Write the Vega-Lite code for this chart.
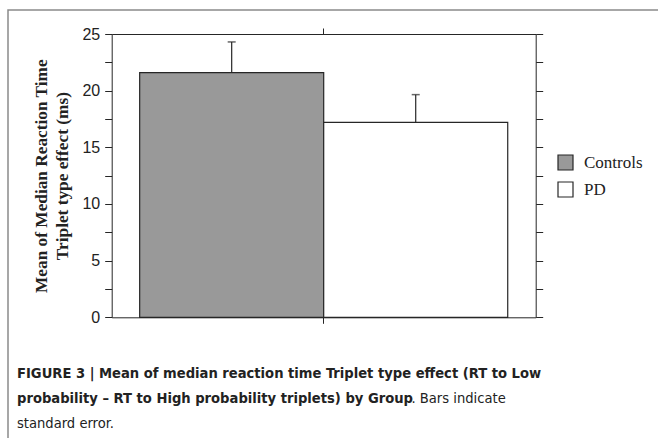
{
  "$schema": "https://vega.github.io/schema/vega-lite/v6.json",
  "autosize": "none",
  "padding": {"left": 8, "top": 10, "right": 0, "bottom": 0},
  "width": 660,
  "height": 440,
  "background": "white",
  "config": {"view": {"stroke": "#8a8a8a", "strokeWidth": 1.5}, "axis": {"grid": false}},
  "title": {
    "text": ["FIGURE 3 | Mean of median reaction time Triplet type effect (RT to Low", "probability – RT to High probability triplets) by Group"],
    "subtitle": ["\u200b\u00a0\u00a0\u00a0\u00a0\u00a0\u00a0\u00a0\u00a0\u00a0\u00a0\u00a0\u00a0\u00a0\u00a0\u00a0\u00a0\u00a0\u00a0\u00a0\u00a0\u00a0\u00a0\u00a0\u00a0\u00a0\u00a0\u00a0\u00a0\u00a0\u00a0\u00a0\u00a0\u00a0\u00a0\u00a0\u00a0\u00a0\u00a0\u00a0\u00a0\u00a0\u00a0\u00a0\u00a0\u00a0\u00a0\u00a0\u00a0\u00a0\u00a0\u00a0\u00a0\u00a0\u00a0\u00a0\u00a0\u00a0\u00a0\u00a0\u00a0\u00a0\u00a0\u00a0\u00a0\u00a0\u00a0\u00a0\u00a0\u00a0\u00a0\u00a0\u00a0\u00a0\u00a0\u00a0\u00a0\u00a0\u00a0\u00a0\u00a0\u00a0\u00a0\u00a0\u00a0\u00a0\u00a0\u00a0\u00a0\u00a0\u00a0\u00a0\u00a0\u00a0\u00a0\u2009. Bars indicate", "standard error."],
    "orient": "bottom",
    "anchor": "start",
    "frame": "group",
    "offset": -84,
    "dx": 9,
    "font": "DejaVu Sans Condensed",
    "fontSize": 14.6,
    "fontWeight": "bold",
    "color": "#222222",
    "lineHeight": 25,
    "subtitleFont": "DejaVu Sans Condensed",
    "subtitleFontSize": 14.6,
    "subtitleFontWeight": "normal",
    "subtitleColor": "#222222",
    "subtitleLineHeight": 25,
    "subtitlePadding": -15
  },
  "data": {
    "values": [
      {"group": "Group", "cond": "Controls", "mean": 21.6, "upper": 24.3},
      {"group": "Group", "cond": "PD", "mean": 17.2, "upper": 19.65}
    ]
  },
  "layer": [
    {
      "mark": {"type": "bar", "stroke": "#262626", "strokeWidth": 1.2},
      "encoding": {
        "x": {
          "field": "group", "type": "nominal",
          "scale": {"range": [103.7, 527.7], "paddingInner": 0, "paddingOuter": 0.076},
          "axis": {"orient": "bottom", "labels": false, "title": null, "tickSize": 6, "domainColor": "#262626", "tickColor": "#262626", "offset": -132.7}
        },
        "xOffset": {"field": "cond", "type": "nominal", "scale": {"paddingInner": 0, "paddingOuter": 0}},
        "y": {
          "field": "mean", "type": "quantitative",
          "scale": {"domain": [0, 25], "range": [307.3, 24], "nice": false, "zero": true},
          "axis": {
            "orient": "left",
            "values": [0, 2.5, 5, 7.5, 10, 12.5, 15, 17.5, 20, 22.5, 25],
            "labelExpr": "datum.value % 5 === 0 ? format(datum.value, 'd') : ''",
            "tickSize": 7,
            "labelPadding": 5,
            "labelFont": "Liberation Sans",
            "labelFontSize": 16,
            "labelColor": "#222222",
            "domainColor": "#262626",
            "tickColor": "#262626",
            "title": ["Mean of Median Reaction Time", "Triplet type effect (ms)"],
            "titleFont": "Liberation Serif",
            "titleFontSize": 17.3,
            "titleFontWeight": "bold",
            "titleColor": "#222222",
            "titleLineHeight": 21,
            "titlePadding": 10,
            "offset": -103.7
          }
        },
        "fill": {
          "field": "cond", "type": "nominal",
          "scale": {"domain": ["Controls", "PD"], "range": ["#999999", "#ffffff"]},
          "legend": {
            "orient": "none", "legendX": 549, "legendY": 144, "title": null,
            "symbolType": "square", "symbolSize": 225,
            "symbolStrokeColor": "#262626", "symbolStrokeWidth": 1.2,
            "labelFont": "Liberation Serif", "labelFontSize": 17, "labelColor": "#222222",
            "labelOffset": 10, "rowPadding": 6, "padding": 0
          }
        }
      }
    },
    {
      "mark": {"type": "rule", "color": "#262626", "strokeWidth": 1.2},
      "encoding": {
        "x": {
          "field": "group", "type": "nominal",
          "axis": {"orient": "top", "labels": false, "title": null, "tickSize": 6, "domainColor": "#262626", "tickColor": "#262626", "offset": -24}
        },
        "xOffset": {"field": "cond", "type": "nominal"},
        "y": {
          "field": "mean", "type": "quantitative",
          "axis": {
            "orient": "right",
            "values": [0, 2.5, 5, 7.5, 10, 12.5, 15, 17.5, 20, 22.5, 25],
            "labels": false, "title": null, "tickSize": 7,
            "domainColor": "#262626", "tickColor": "#262626", "offset": -132.3
          }
        },
        "y2": {"field": "upper"}
      }
    },
    {
      "mark": {"type": "tick", "orient": "horizontal", "size": 8, "thickness": 1.5, "color": "#262626"},
      "encoding": {
        "x": {"field": "group", "type": "nominal", "axis": null},
        "xOffset": {"field": "cond", "type": "nominal"},
        "y": {"field": "upper", "type": "quantitative", "axis": null}
      }
    }
  ],
  "resolve": {"axis": {"x": "independent", "y": "independent"}}
}
